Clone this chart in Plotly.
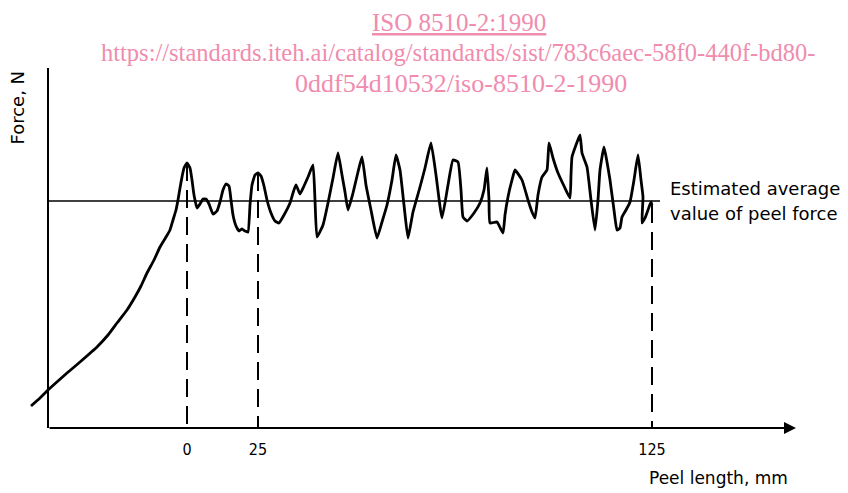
import numpy as np
import plotly.graph_objects as go

# Position along the chart (schematic units) and force (arbitrary units)
position = [-17, -8, 0, 10, 19, 32, 49, 60, 69, 79, 87, 93, 99, 106, 112, 118, 122, 125, 128, 130,
            132, 134, 136, 139, 142, 144, 146, 149, 152, 155, 158, 161, 165, 169, 172, 175, 178, 181,
            183, 185, 188, 191, 194, 197, 200, 202, 204, 207, 210, 213, 216, 219, 223, 227, 231, 236,
            242, 245, 248, 252, 256, 260, 265, 267, 269, 275, 280, 285, 290, 294, 297, 300, 305, 310,
            314, 318, 323, 329, 334, 339, 344, 348, 352, 356, 360, 365, 372, 377, 383, 388, 394, 400,
            405, 410, 413, 415, 419, 426, 432, 436, 439, 441, 442, 449, 455, 457, 460, 464, 467, 474,
            480, 484, 487, 490, 494, 499, 501, 505, 510, 516, 522, 523, 524, 528, 532, 534, 539, 543,
            547, 550, 552, 556, 559, 562, 566, 569, 572, 574, 578, 582, 586, 590, 593, 595, 594, 597,
            600, 603, 604]
force = [22, 30, 38, 47, 55, 66, 81, 93, 105, 118, 131, 142, 155, 168, 181, 191, 198, 208, 218, 228,
         240, 251, 260, 265, 260, 248, 233, 220, 224, 229, 229, 224, 214, 217, 226, 238, 244, 242,
         228, 213, 202, 197, 199, 197, 196, 223, 243, 253, 255, 252, 242, 228, 215, 207, 205, 213,
         225, 235, 243, 234, 242, 251, 263, 228, 191, 203, 225, 250, 275, 253, 236, 218, 235, 256,
         271, 243, 218, 190, 206, 223, 248, 273, 258, 223, 190, 216, 241, 260, 285, 253, 210, 243,
         268, 266, 238, 211, 207, 215, 225, 238, 260, 228, 205, 206, 195, 213, 231, 248, 258, 248,
         228, 216, 210, 233, 251, 258, 285, 270, 255, 242, 230, 253, 271, 283, 293, 275, 261, 228,
         198, 228, 258, 281, 266, 248, 218, 198, 200, 211, 218, 226, 248, 273, 248, 231, 205, 210,
         218, 226, 223]

average_force = 227
avg_line_end = 612
tick_positions = [139, 210, 604]
tick_labels = ["0", "25", "125"]

label_font = "DejaVu Sans, sans-serif"
tick_font = "DejaVu Sans Condensed, DejaVu Sans, sans-serif"
serif_font = "Liberation Serif, Times New Roman, serif"
pink = "#f08cae"

fig = go.Figure()

# Dashed verticals marking 0, 25 and 125 mm
for tp in tick_positions:
    top = float(np.interp(tp, position, force))
    fig.add_trace(go.Scatter(x=[tp, tp], y=[top, 0], mode="lines",
                             line=dict(color="black", width=2, dash="18px,9px"),
                             hoverinfo="skip", showlegend=False, cliponaxis=False))

# Average line
fig.add_trace(go.Scatter(x=[0, avg_line_end], y=[average_force, average_force], mode="lines",
                         line=dict(color="black", width=1.6), showlegend=False, cliponaxis=False))

# Force curve
fig.add_trace(go.Scatter(x=position, y=force, mode="lines",
                         line=dict(color="black", width=2.8, shape="spline", smoothing=0.4),
                         showlegend=False, cliponaxis=False))

# Y axis line
fig.add_trace(go.Scatter(x=[0, 0], y=[0, 360], mode="lines",
                         line=dict(color="black", width=2), showlegend=False, cliponaxis=False))

annotations = [
    # X axis with arrow
    dict(x=748, y=0, ax=0, ay=0, xref="x", yref="y", axref="x", ayref="y", text="",
         showarrow=True, arrowhead=2, arrowsize=1.2, arrowwidth=2, arrowcolor="black"),
    dict(x=620, y=240, xref="x", yref="y", text="Estimated average", showarrow=False,
         xanchor="left", yanchor="middle", font=dict(family=label_font, size=18, color="black")),
    dict(x=620, y=215, xref="x", yref="y", text="value of peel force", showarrow=False,
         xanchor="left", yanchor="middle", font=dict(family=label_font, size=18, color="black")),
    dict(x=0.987, y=-0.139, xref="paper", yref="paper", text="Peel length, mm", showarrow=False,
         xanchor="right", yanchor="middle", font=dict(family=label_font, size=17, color="black")),
    dict(x=-0.013, y=0.89, xref="paper", yref="paper", text="Force, N", showarrow=False,
         textangle=-90, xanchor="center", yanchor="middle",
         font=dict(family=label_font, size=18, color="black")),
    dict(x=0.558, y=1.127, xref="paper", yref="paper", text="<u>ISO 8510-2:1990</u>",
         showarrow=False, xanchor="center", yanchor="middle",
         font=dict(family=serif_font, size=25, color=pink)),
    dict(x=0.557, y=1.044, xref="paper", yref="paper",
         text="https://standards.iteh.ai/catalog/standards/sist/783c6aec-58f0-440f-bd80-",
         showarrow=False, xanchor="center", yanchor="middle",
         font=dict(family=serif_font, size=24.5, color=pink)),
    dict(x=0.561, y=0.956, xref="paper", yref="paper", text="0ddf54d10532/iso-8510-2-1990",
         showarrow=False, xanchor="center", yanchor="middle",
         font=dict(family=serif_font, size=26, color=pink)),
]

fig.update_layout(
    width=840, height=485,
    margin=dict(l=20, r=48, t=60, b=65),
    paper_bgcolor="white", plot_bgcolor="white",
    showlegend=False,
    annotations=annotations,
    xaxis=dict(range=[-20, 752], showgrid=False, zeroline=False, showline=False,
               tickmode="array", tickvals=tick_positions, ticktext=tick_labels,
               ticks="", ticklabelstandoff=10,
               tickfont=dict(family=tick_font, size=16, color="black"), fixedrange=True),
    yaxis=dict(range=[0, 360], showgrid=False, zeroline=False, showline=False,
               showticklabels=False, ticks="", fixedrange=True),
)

fig.write_html("out.html")
